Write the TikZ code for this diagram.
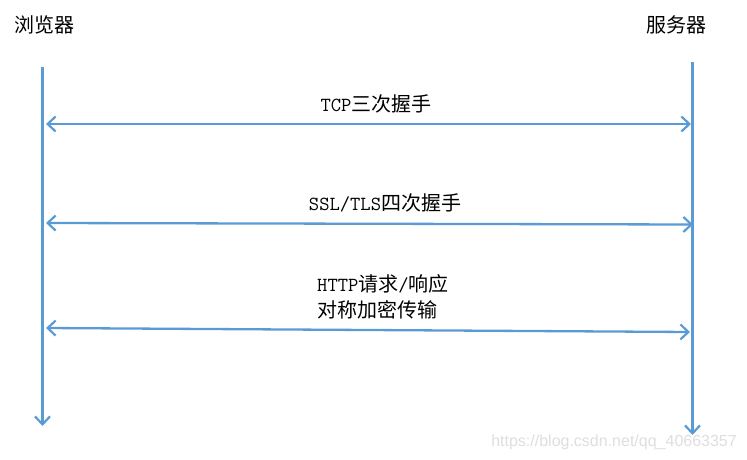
\documentclass[tikz,border=0pt]{standalone}
\usepackage{fontspec}
\setmainfont{Liberation Serif}
\setsansfont{Liberation Sans}
\newfontfamily\cjk{Noto Sans CJK SC}
\usetikzlibrary{arrows.meta}
\definecolor{lineblue}{RGB}{91,155,213}
\definecolor{markgray}{RGB}{222,222,222}
\tikzset{
  msg/.style={lineblue,line width=2.3pt,>={Straight Barb[length=8pt,width=15pt,line width=2.2pt]}},
  lbl/.style={inner sep=0pt,font=\fontsize{20}{26}\selectfont}
}
\newcommand{\lt}[1]{{\ttfamily #1}}

\begin{document}
\begin{tikzpicture}[x=1pt,y=-1pt]
\useasboundingbox (0,0) rectangle (747,460);
\node[lbl] (browser) at (44,25) {\cjk 浏览器};
\node[lbl] (server) at (676,25) {\cjk 服务器};
\coordinate (btop) at (42.5,67);  \coordinate (bend) at (42.5,426);
\coordinate (stop) at (692.5,62); \coordinate (send) at (692.5,435);
\draw[->,msg] (btop) -- (bend);
\draw[->,msg] (stop) -- (send);
% handshakes and data
\coordinate (a1) at (46,124);  \coordinate (b1) at (691,124);
\coordinate (a2) at (46,223);  \coordinate (b2) at (693,224.5);
\coordinate (a3) at (46,328);  \coordinate (b3) at (690,332);
\draw[<->,msg] (a1) -- (b1);
\draw[<->,msg] (a2) -- (b2);
\draw[<->,msg] (a3) -- (b3);
\node[lbl] (tcp) at (376,104) {\lt{TCP}\cjk 三次握手};
\node[lbl] (ssl) at (385,203) {\lt{SSL/TLS}\cjk 四次握手};
\node[lbl,anchor=west,align=left] (http) at (317,297) {\lt{HTTP}\cjk 请求\lt{/}\cjk 响应\\\cjk 对称加密传输};
\node[inner sep=0pt,anchor=east,markgray,font=\sffamily\fontsize{16}{18}\selectfont] (mark) at (737,442) {https://blog.csdn.net/qq\_40663357};
\end{tikzpicture}
\end{document}
